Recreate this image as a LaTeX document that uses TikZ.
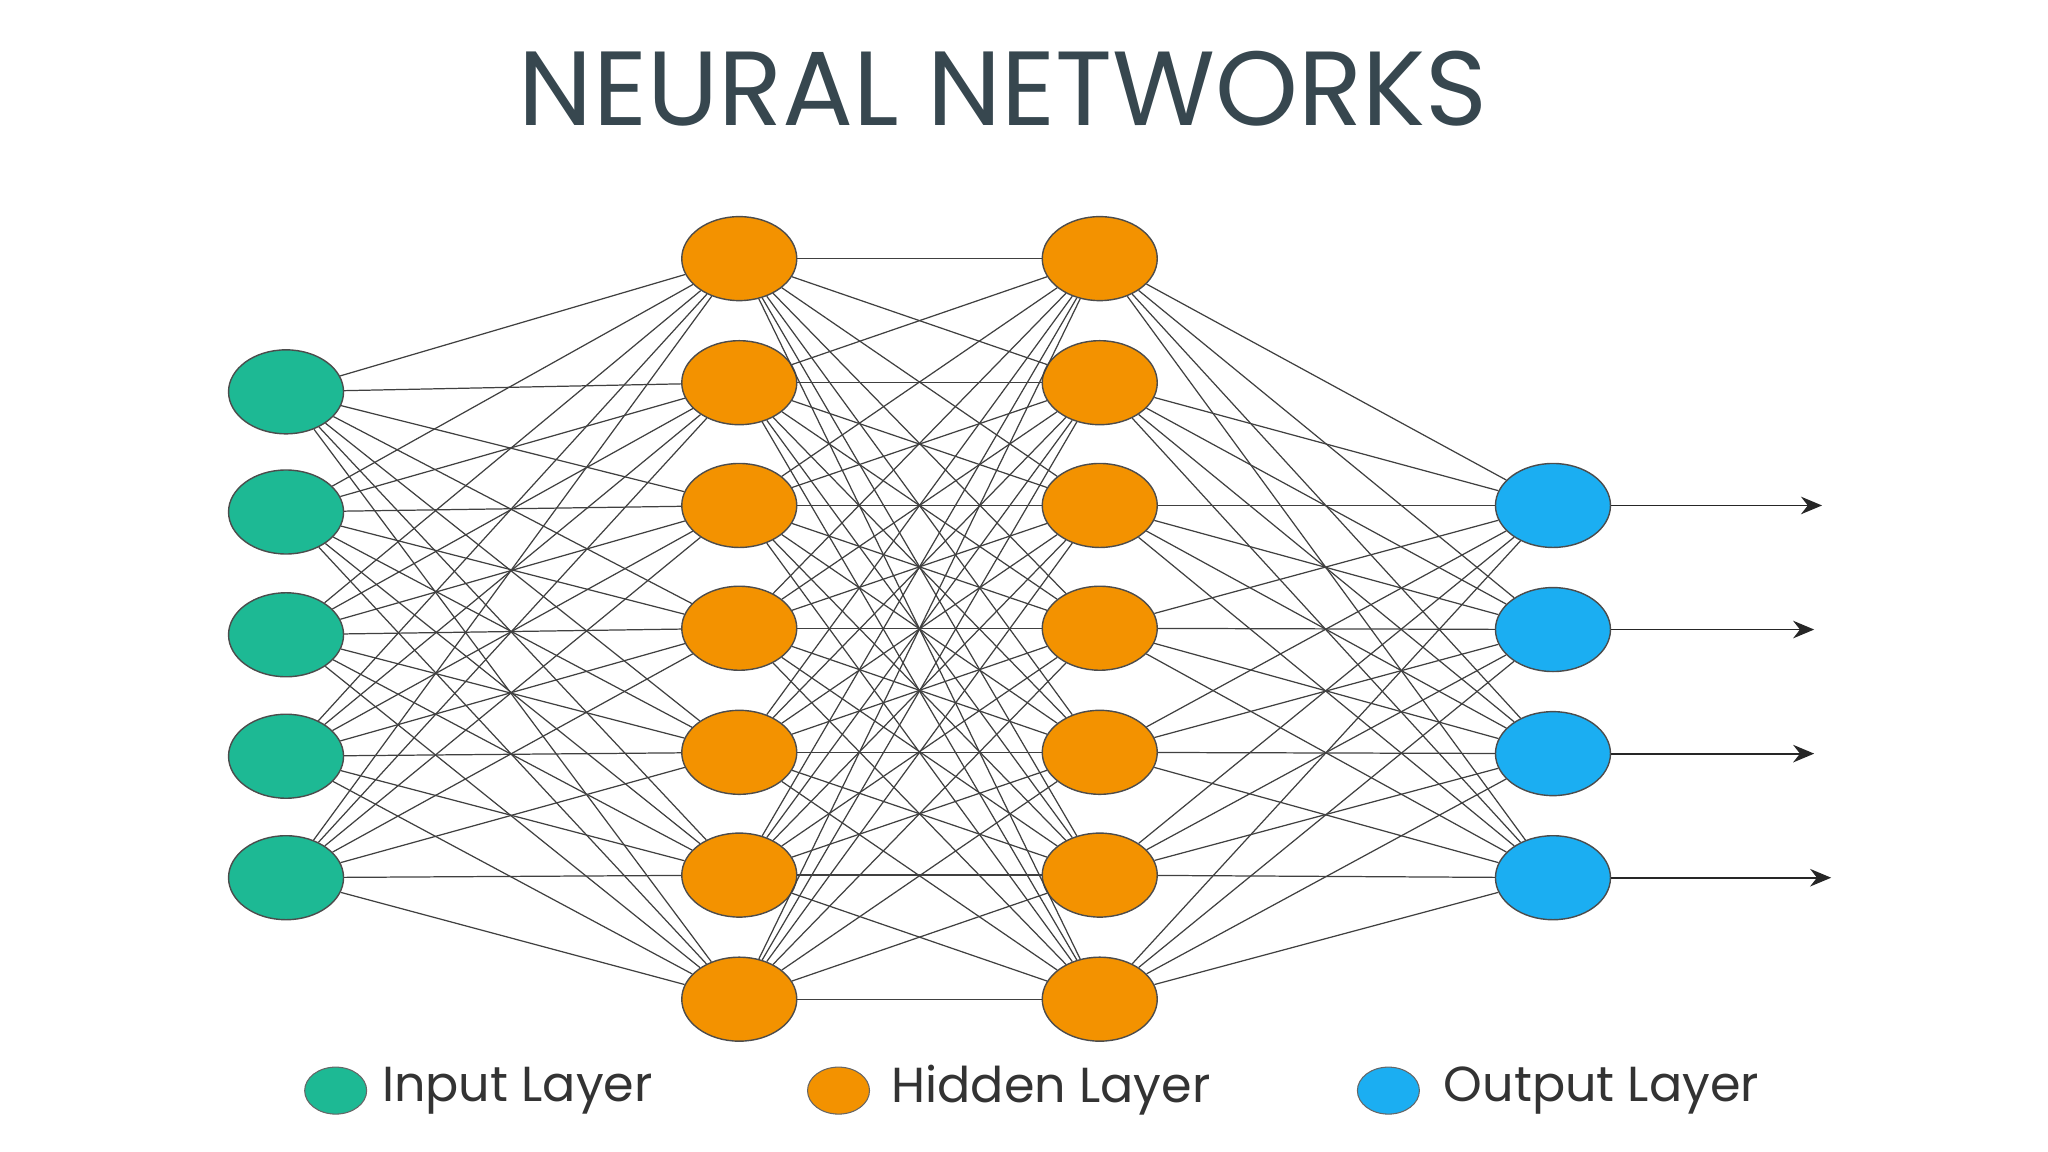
\documentclass[tikz,border=0pt]{standalone}
\usepackage{fontspec}
\setmainfont{Poppins}
\usetikzlibrary{shapes.geometric,arrows.meta}
\definecolor{inC}{HTML}{1DB994}
\definecolor{hidC}{HTML}{F39200}
\definecolor{outC}{HTML}{1BAEF2}
\definecolor{titleC}{HTML}{37474F}
\begin{document}
\begin{tikzpicture}[x=0.013061cm,y=-0.013061cm,
  neuron/.style={ellipse,draw=black!70,line width=0.4pt,minimum width=1.15cm,minimum height=0.84cm,inner sep=0pt},
  inn/.style={neuron,fill=inC},
  hid/.style={neuron,fill=hidC},
  outn/.style={neuron,fill=outC},
  edge/.style={draw=black!75,line width=0.35pt},
  leg/.style={ellipse,draw=black!60,line width=0.3pt,minimum width=0.62cm,minimum height=0.47cm,inner sep=0pt},
  legt/.style={anchor=west,font=\fontsize{14}{16}\selectfont,text=black!80,inner sep=0pt}]
\useasboundingbox (0,0) rectangle (1568,882);
\node[font=\fontsize{30}{34}\selectfont,text=titleC] (title) at (768,68) {NEURAL NETWORKS};
\foreach \i/\y in {1/300,2/392,3/486,4/579,5/672} \node[inn] (i\i) at (219,\y) {};
\foreach \i/\y in {1/198,2/293,3/387,4/481,5/576,6/670,7/765} {
  \node[hid] (a\i) at (566,\y) {};
  \node[hid] (b\i) at (842,\y) {};
}
\foreach \i/\y in {1/387,2/482,3/577,4/672} \node[outn] (o\i) at (1189,\y) {};
\begin{scope}[on background layer/.style={}]
\foreach \i in {1,...,5} \foreach \j in {1,...,7} \path[edge] (i\i) -- (a\j);
\foreach \i in {1,...,7} \foreach \j in {1,...,7} \path[edge] (a\i) -- (b\j);
\foreach \i in {1,...,7} \foreach \j in {1,...,4} \path[edge] (b\i) -- (o\j);
\end{scope}
\foreach \i/\y/\x in {1/387/1395,2/482/1389,3/577/1389,4/672/1402} {
  \coordinate (e\i) at (\x,\y);
  \draw[black!85,line width=0.5pt,-{Stealth[length=6pt,width=5pt]}] (o\i) -- (e\i);
}
\node[leg,fill=inC] (l1) at (257,835) {};
\node[legt] (t1) at (292,835) {Input Layer};
\node[leg,fill=hidC] (l2) at (642,835) {};
\node[legt] (t2) at (682,835) {Hidden Layer};
\node[leg,fill=outC] (l3) at (1063,835) {};
\node[legt] (t3) at (1105,835) {Output Layer};
\end{tikzpicture}
\end{document}
